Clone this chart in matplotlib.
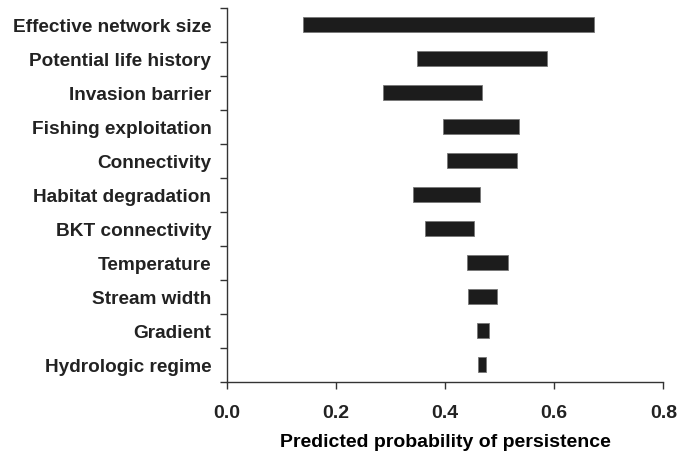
import numpy as np
import matplotlib.pyplot as plt

# sensitivity of persistence probability to each factor (low / high end)
factors = ["Effective network size", "Potential life history", "Invasion barrier",
           "Fishing exploitation", "Connectivity", "Habitat degradation",
           "BKT connectivity", "Temperature", "Stream width", "Gradient",
           "Hydrologic regime"]
low = [0.140, 0.348, 0.287, 0.397, 0.403, 0.342, 0.363, 0.441, 0.442, 0.459, 0.460]
high = [0.673, 0.586, 0.468, 0.536, 0.531, 0.465, 0.453, 0.515, 0.495, 0.480, 0.475]
xticks = [0.0, 0.2, 0.4, 0.6, 0.8]

plt.rcParams['font.family'] = ['Liberation Sans', 'DejaVu Sans']
plt.rcParams['text.color'] = '#222222'
plt.rcParams['xtick.labelcolor'] = '#222222'
plt.rcParams['ytick.labelcolor'] = '#222222'

fig = plt.figure(figsize=(6.91, 4.52), dpi=100)
ax = fig.add_axes([0.328, 0.1533, 0.632, 0.8275])

pos = np.arange(len(factors)) + 0.5
widths = np.array(high) - np.array(low)
ax.barh(pos, widths, left=low, height=0.44, color='#1c1c1c',
        edgecolor='#777777', linewidth=0.6)

ax.set_xlim(0, 0.8)
ax.set_ylim(len(factors), 0)
ax.set_xticks(xticks)
ax.set_xticklabels([f"{t:.1f}" for t in xticks], fontsize=14, fontweight='bold')
ax.set_xlabel("Predicted probability of persistence", fontsize=14,
              fontweight='bold', labelpad=9)

# boundary ticks on the y axis, labels centred in each row
ax.set_yticks(np.arange(len(factors) + 1))
ax.set_yticklabels([])
ax.set_yticks(pos, minor=True)
ax.set_yticklabels(factors, minor=True, fontsize=13.7, fontweight='bold')
ax.tick_params(axis='y', which='minor', length=0, pad=11)
ax.tick_params(axis='y', which='major', length=5, width=1, color='#333333')
ax.tick_params(axis='x', length=5, width=1, color='#333333', pad=11)

for s in ['top', 'right']:
    ax.spines[s].set_visible(False)
for s in ['left', 'bottom']:
    ax.spines[s].set_color('#333333')
    ax.spines[s].set_linewidth(1)

fig.savefig("out.png", dpi=100)
